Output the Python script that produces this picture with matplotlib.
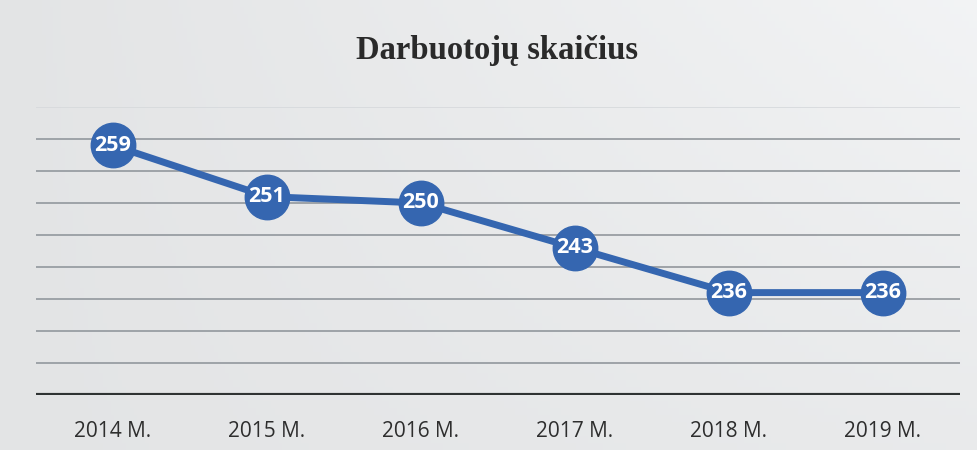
import matplotlib
matplotlib.use("Agg")
import matplotlib.pyplot as plt
import numpy as np

years = ["2014 M.", "2015 M.", "2016 M.", "2017 M.", "2018 M.", "2019 M."]
employees = [259, 251, 250, 243, 236, 236]
grid_values = [225, 230, 235, 240, 245, 250, 255, 260]
top_grid = 265
title = "Darbuotojų skaičius"

fig = plt.figure(figsize=(9.77, 4.5), dpi=100)
fig.patch.set_facecolor("#e9ebed")

# subtle paper-like background gradient (left greyer, right lighter)
bg = fig.add_axes([0, 0, 1, 1], zorder=-10)
gx = np.linspace(0, 1, 256)
gy = np.linspace(0, 1, 64)
GX, GY = np.meshgrid(gx, gy)
shade = 0.895 + 0.06 * GX * (0.4 + 0.6 * (1 - GY))
bg.imshow(np.dstack([shade * 0.995, shade * 1.0, shade * 1.005]).clip(0, 1),
          aspect="auto", extent=[0, 1, 0, 1], origin="upper")
bg.set_axis_off()

ax = fig.add_axes([36/977, (450-395)/450, (960-36)/977, (395-107)/450])
ax.set_facecolor("none")

x = list(range(len(years)))
for g in grid_values:
    ax.axhline(g, color="#9ea3a8", lw=1.4, zorder=1)
ax.axhline(top_grid, color="#d6d9dc", lw=1.2, zorder=1)
ax.axhline(220, color="#2f3333", lw=3, zorder=1)

ax.plot(x, employees, color="#3566b0", lw=5, marker="o", markersize=32,
        markerfacecolor="#3566b0", markeredgecolor="#3566b0", zorder=3,
        solid_capstyle="round")
for xi, v in zip(x, employees):
    ax.text(xi, v, str(v), ha="center", va="center", color="white",
            fontsize=15.5, fontweight="bold", family="Open Sans", zorder=4)

ax.set_xlim(-0.5, len(years) - 0.5)
ax.set_ylim(220, 265)
ax.set_xticks(x)
ax.set_xticklabels(years, fontsize=15, color="#2e2e2e", family="Open Sans")
ax.tick_params(axis="x", length=0, pad=19)
ax.set_yticks([])
for s in ax.spines.values():
    s.set_visible(False)

fig.text(497/977, 1 - 50/450, title, ha="center", va="center",
         fontsize=23.5, fontweight="bold", family="Liberation Serif", color="#2a2a2a")

fig.savefig("out.png", dpi=100, facecolor=fig.get_facecolor())
